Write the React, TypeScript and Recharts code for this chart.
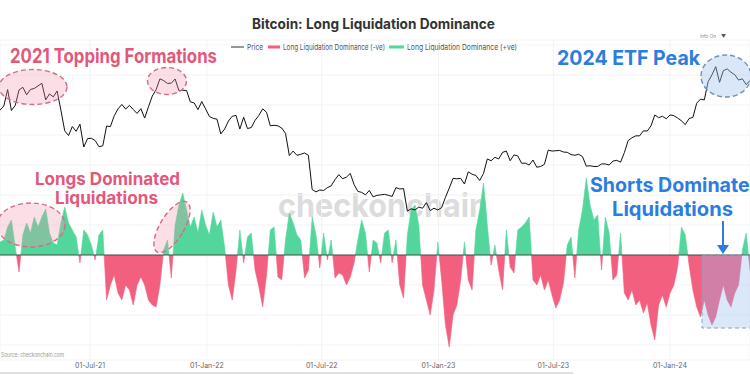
import React from 'react';
import {
  ComposedChart,
  Area,
  Line,
  XAxis,
  YAxis,
  CartesianGrid,
  ReferenceLine,
} from 'recharts';

// days counted from 1 Jan 2021
const START_DAY = 39;
const STEP_DAYS = 6;
const END_DAY = 1221;

const TICK_DAYS = [181, 365, 546, 730, 911, 1095];
const TICK_LABELS = ['01-Jul-21', '01-Jan-22', '01-Jul-22', '01-Jan-23', '01-Jul-23', '01-Jan-24'];

// BTC price (USD), one point every 6 days
const PRICE = [
  46500, 48500, 57500, 46300, 48800, 57300, 58900, 54500, 57600, 58200,
  59800, 61400, 51700, 55000, 53300, 56700, 46400, 37500, 35700, 39200,
  37300, 40200, 31700, 34600, 34700, 33900, 31800, 32100, 39400, 39200,
  43800, 47100, 49300, 47000, 48800, 46800, 44900, 47200, 42800, 48100,
  53800, 57400, 64300, 63100, 61300, 61500, 64200, 56900, 57100, 57000,
  50600, 50100, 46700, 50800, 47100, 43500, 42700, 42300, 36300, 38200,
  41500, 43600, 44000, 38200, 43200, 38400, 38800, 41800, 44000, 47100,
  45500, 39500, 39700, 39500, 38600, 36500, 29000, 30400, 29100, 29400,
  29800, 29100, 20400, 19900, 20300, 20200, 20800, 21200, 22600, 23800,
  22800, 23200, 24100, 21500, 20000, 19800, 19300, 20200, 18900, 19200,
  19300, 19400, 19200, 19000, 20800, 20500, 20600, 16300, 16700, 16500,
  17000, 16800, 17800, 16400, 16800, 16500, 16900, 18800, 20700, 22900,
  22800, 22900, 21600, 24500, 23900, 23600, 22400, 24100, 28000, 27500,
  28500, 28000, 30000, 30400, 27500, 29200, 28900, 26800, 26800, 26300,
  27700, 25700, 25900, 26500, 30700, 30400, 30500, 30600, 30100, 30000,
  29300, 29100, 29400, 28700, 26000, 26100, 25900, 25900, 26600, 26600,
  26300, 27400, 27600, 27100, 29900, 33900, 34900, 35600, 35600, 37500,
  37400, 39500, 44200, 43000, 43600, 42500, 44200, 43900, 42800, 41600,
  40000, 42600, 43100, 49900, 52100, 51700, 62400, 67000, 73000, 62000,
  70000, 71300, 68900, 67100, 63500, 64300, 60600, 63200,
];

// long liquidation dominance, +ve = longs dominate, -ve = shorts dominate
const DOMINANCE = [
  0.13, 0.15, 0.28, 0.35, 0.08, -0.17, 0.2, 0.32, 0.22, 0.38,
  0.28, 0.38, 0.46, 0.22, 0.12, 0.1, 0.32, 0.48, 0.32, 0.25,
  0.18, -0.08, 0.25, 0.2, 0.1, -0.05, 0.2, 0.25, -0.45, -0.3,
  -0.2, -0.38, -0.45, -0.3, -0.35, -0.5, -0.3, -0.22, -0.3, -0.45,
  -0.5, -0.52, -0.3, 0.05, 0.15, -0.23, 0.3, 0.5, 0.62, 0.45,
  0.28, 0.38, 0.22, 0.45, 0.3, 0.2, 0.43, 0.28, 0.35, 0.08,
  -0.3, -0.45, -0.15, 0.25, -0.08, 0.18, 0.22, -0.15, -0.32, -0.52,
  -0.2, 0.25, 0.28, -0.22, -0.25, 0.15, 0.42, 0.32, 0.2, 0.15,
  -0.23, -0.15, 0.38, 0.2, -0.13, 0.22, -0.05, 0.15, -0.23, -0.18,
  -0.2, -0.3, -0.22, -0.08, 0.15, 0.35, 0.22, -0.17, 0.15, 0.12,
  -0.08, 0.22, 0.25, -0.08, 0.15, -0.3, -0.43, 0.2, 0.45, 0.5,
  0.3, -0.3, -0.45, -0.6, -0.35, 0.13, -0.25, -0.7, -0.92, -0.6,
  -0.5, -0.25, 0.13, -0.25, -0.35, 0.25, 0.45, 0.72, 0.3, -0.1,
  0.1, -0.15, -0.35, 0.25, -0.12, -0.18, 0.25, 0.28, 0.32, 0.38,
  -0.25, -0.3, -0.2, -0.35, -0.25, -0.4, -0.53, -0.45, -0.28, 0.1,
  0.18, -0.23, 0.25, 0.45, 0.77, 0.5, 0.35, 0.4, -0.15, 0.38,
  0.22, -0.25, -0.2, 0.22, -0.38, -0.45, -0.35, -0.5, -0.45, -0.58,
  -0.48, -0.7, -0.85, -0.5, -0.4, -0.52, -0.38, -0.3, -0.12, 0.28,
  0.2, -0.1, -0.35, -0.52, -0.62, -0.45, -0.6, -0.7, -0.62, -0.45,
  -0.3, -0.45, -0.52, -0.38, -0.3, 0.05, 0.22, -0.15,
];

const DOM_TICKS = [-0.9, -0.6, -0.3, 0.3, 0.6, 0.9, 1.2, 1.5, 1.8, 2.1];

const GREEN = '#52d69b';
const RED = '#f25f7f';
const PINK = '#e2587b';
const BLUE = '#2b7de0';
const FONT = "Inter, 'Open Sans', sans-serif";

const data = PRICE.map((price, i) => ({
  day: START_DAY + i * STEP_DAYS,
  price,
  dom: DOMINANCE[i],
}));

const domMax = Math.max(...DOMINANCE);
const domMin = Math.min(...DOMINANCE);
const zeroOffset = domMax / (domMax - domMin);

export default function App() {
  return (
    <div
      style={{
        position: 'absolute',
        left: 0,
        top: 0,
        width: 750,
        height: 375,
        overflow: 'hidden',
        background: '#fff',
        fontFamily: FONT,
      }}
    >
      {/* watermark */}
      <svg width={750} height={375} style={{ position: 'absolute', left: 0, top: 0 }}>
        <text x={278} y={217} fontSize={33} fontWeight={700} fill="#dcdcdc" textLength={210} lengthAdjust="spacingAndGlyphs">
          checkonchain
        </text>
      </svg>

      <div style={{ position: 'absolute', left: 0, top: 0 }}>
        <ComposedChart width={750} height={375} data={data} margin={{ top: 40, right: 0, bottom: 0, left: 0 }}>
          <defs>
            <linearGradient id="domFill" x1="0" y1="0" x2="0" y2="1">
              <stop offset={zeroOffset} stopColor={GREEN} />
              <stop offset={zeroOffset} stopColor={RED} />
            </linearGradient>
          </defs>
          <XAxis
            dataKey="day"
            type="number"
            domain={[START_DAY, END_DAY]}
            ticks={TICK_DAYS}
            interval={0}
            tickFormatter={(d: number) => TICK_LABELS[TICK_DAYS.indexOf(d)]}
            axisLine={false}
            tickLine={false}
            tickSize={0}
            tickMargin={3}
            height={15}
            tick={{ fontSize: 7, fill: '#666', fontFamily: FONT }}
            allowDataOverflow
          />
          <YAxis yAxisId="price" type="number" scale="log" domain={[3480, 96200]} hide allowDataOverflow />
          <YAxis yAxisId="dom" type="number" domain={[-1.05, 2.15]} ticks={DOM_TICKS} hide allowDataOverflow />
          <CartesianGrid yAxisId="dom" stroke="#f3f3f3" />
          <Area
            yAxisId="dom"
            dataKey="dom"
            type="linear"
            baseValue={0}
            fill="url(#domFill)"
            fillOpacity={1}
            stroke="url(#domFill)"
            strokeWidth={0.6}
            dot={false}
            activeDot={false}
            isAnimationActive={false}
          />
          <ReferenceLine yAxisId="dom" y={0} stroke="#3f4f47" strokeWidth={1} />
          <Line
            yAxisId="price"
            dataKey="price"
            type="linear"
            stroke="#111"
            strokeWidth={1}
            dot={false}
            activeDot={false}
            isAnimationActive={false}
          />
        </ComposedChart>
      </div>

      {/* titles, legend and annotations */}
      <svg width={750} height={375} style={{ position: 'absolute', left: 0, top: 0, pointerEvents: 'none' }}>
        <text x={252} y={29} fontSize={14} fontWeight={700} fill="#333" textLength={243} lengthAdjust="spacingAndGlyphs">
          Bitcoin: Long Liquidation Dominance
        </text>

        <line x1={231} y1={47} x2={244} y2={47} stroke="#333" strokeWidth={1} />
        <text x={247} y={50} fontSize={8} fill="#555" textLength={16} lengthAdjust="spacingAndGlyphs">Price</text>
        <rect x={268} y={45.5} width={12} height={3} fill={RED} />
        <text x={283} y={50} fontSize={8} fill="#555" textLength={102} lengthAdjust="spacingAndGlyphs">
          Long Liquidation Dominance (-ve)
        </text>
        <rect x={389} y={45.5} width={15} height={3} fill={GREEN} />
        <text x={407} y={50} fontSize={8} fill="#555" textLength={110} lengthAdjust="spacingAndGlyphs">
          Long Liquidation Dominance (+ve)
        </text>

        <text x={700} y={38} fontSize={5} fill="#888" textLength={16} lengthAdjust="spacingAndGlyphs">Info On</text>
        <text x={721} y={38} fontSize={5} fill="#555">▼</text>

        <text x={1} y={357} fontSize={5.5} fill="#999" textLength={63} lengthAdjust="spacingAndGlyphs">
          Source: checkonchain.com
        </text>
        <line x1={0} y1={373} x2={573} y2={373} stroke="#d4d4d4" strokeWidth={1.5} />

        {/* 2021 topping */}
        <ellipse cx={33} cy={87} rx={34} ry={17.5} fill="rgba(240,150,175,0.3)" stroke="#d66b86" strokeWidth={1.4} strokeDasharray="5 3" />
        <ellipse cx={167} cy={81} rx={19.5} ry={13.5} fill="rgba(240,150,175,0.3)" stroke="#d66b86" strokeWidth={1.4} strokeDasharray="5 3" />
        <text x={10} y={63} fontSize={20} fontWeight={700} fill={PINK} textLength={207} lengthAdjust="spacingAndGlyphs">
          2021 Topping Formations
        </text>

        {/* longs dominated */}
        <ellipse cx={31} cy={225} rx={34} ry={22} fill="rgba(240,150,175,0.3)" stroke="#d66b86" strokeWidth={1.4} strokeDasharray="5 3" />
        <ellipse cx={172} cy={227} rx={12} ry={29} transform="rotate(31 172 227)" fill="rgba(240,150,175,0.3)" stroke="#d66b86" strokeWidth={1.4} strokeDasharray="5 3" />
        <text x={35} y={185} fontSize={17} fontWeight={700} fill={PINK} textLength={145} lengthAdjust="spacingAndGlyphs">
          Longs Dominated
        </text>
        <text x={55} y={204} fontSize={17} fontWeight={700} fill={PINK} textLength={103} lengthAdjust="spacingAndGlyphs">
          Liquidations
        </text>

        {/* 2024 ETF peak */}
        <ellipse cx={726} cy={76} rx={25} ry={21} fill="rgba(160,195,240,0.4)" stroke="#6e8fb8" strokeWidth={1.4} strokeDasharray="5 3" />
        <text x={557} y={65} fontSize={20} fontWeight={700} fill={BLUE} textLength={143} lengthAdjust="spacingAndGlyphs">
          2024 ETF Peak
        </text>

        {/* shorts dominate */}
        <rect x={702} y={255} width={52} height={73} fill="rgba(150,190,240,0.35)" stroke="#8aa0bb" strokeWidth={1} strokeDasharray="4 3" />
        <text x={590} y={192} fontSize={20} fontWeight={700} fill={BLUE} textLength={172} lengthAdjust="spacingAndGlyphs">
          Shorts Dominated
        </text>
        <text x={612} y={216} fontSize={20} fontWeight={700} fill={BLUE} textLength={121} lengthAdjust="spacingAndGlyphs">
          Liquidations
        </text>
        <line x1={723} y1={221} x2={723} y2={246} stroke={BLUE} strokeWidth={2} />
        <polygon points="717,245 729,245 723,254" fill={BLUE} />
      </svg>
    </div>
  );
}
